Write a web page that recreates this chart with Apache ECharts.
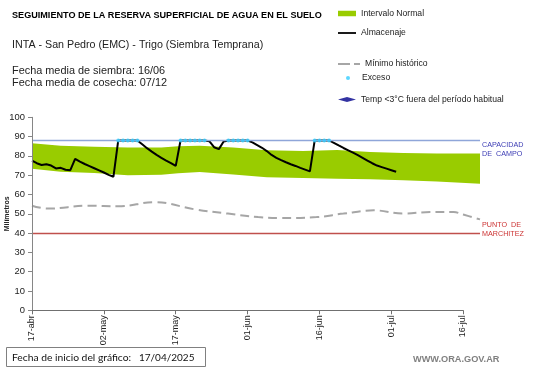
<!DOCTYPE html>
<html><head><meta charset="utf-8">
<script src="https://cdn.jsdelivr.net/npm/echarts@6/dist/echarts.min.js"></script>
<style>html,body{margin:0;padding:0;background:#fff}#c{width:541px;height:368px}</style>
</head><body><div id="c"></div>
<script>
// ---- data ----
const tickLabels = ['17-abr','02-may','17-may','01-jun','16-jun','01-jul','16-jul'];
// Almacenaje (mm), one value per day from 17-abr
const almacenaje = [
  77.5,76.2,75.3,75.7,75.0,73.5,73.8,72.8,72.6,78.5,
  77.0,75.8,74.7,73.6,72.5,71.4,70.2,69.2,88,88,
  88,88,88,86,84,82.2,80.5,79,77.6,76.3,
  74.8,88,88,88,88,88,88,87.6,84.5,83.5,
  87.5,88,88,88,88,88,87,85.6,84.2,82.5,
  80.5,79,77.8,76.7,75.7,74.8,73.8,72.9,72,88,
  88,88,88,86.8,85.4,84.1,82.9,81.7,80.4,79.0,
  77.6,76.2,75.0,74.2,73.4,72.6,71.8
];
const excesoDays = [18,19,20,21,22,31,32,33,34,35,36,41,42,43,44,45,59,60,61,62];
const bandDays = [0,6,13,20,27,30.5,35,42,49,56.6,63.7,70.6,77.5,84.5,93.5];
const bandLow  = [73.3,71.8,71.2,70.0,70.2,71.0,71.6,70.3,69.0,68.6,68.2,67.9,67.4,66.8,65.6];
const bandHigh = [86.5,85.3,84.8,84.3,84.4,85.0,85.2,84.3,82.9,82.5,83.1,82.0,81.5,81.2,81.3];
const minHistDays = [0,3.3,11.7,18,25.6,34,40.9,47.2,51.8,59.4,65,71.3,77.5,83.1,88,90,93.5];
const minHist     = [54.2,52.7,54.2,53.9,56.0,52.3,50.1,48.3,47.8,48.3,50.1,51.8,50.1,50.9,50.9,49.6,47.1];
const capacidadCampo = 88;
const puntoMarchitez = 40;
const lastDay = 93.5;

// ---- chart ----
const F = '"Liberation Sans", Arial, sans-serif';
const chart = echarts.init(document.getElementById('c'));
const legendBase = {left:338, padding:0, itemWidth:18, textStyle:{fontSize:8.6, color:'#222', fontFamily:F}};
chart.setOption({
  animation:false,
  textStyle:{fontFamily:F},
  grid:[
    {left:32, top:117.3, width:448, height:193, outerBoundsMode:'none', containLabel:false},
    {left:32, top:117.3, width:431, height:193, outerBoundsMode:'none', containLabel:false}
  ],
  xAxis:[
    {gridIndex:0, type:'value', min:0, max:lastDay, show:false},
    {gridIndex:1, type:'value', min:0, max:90, interval:15, z:10,
      axisLine:{lineStyle:{color:'#707070', width:1}},
      axisTick:{length:4, lineStyle:{color:'#707070'}},
      splitLine:{show:false},
      axisLabel:{rotate:90, fontSize:9, color:'#222', margin:5,
        formatter:v => tickLabels[Math.round(v/15)]}}
  ],
  yAxis:[
    {gridIndex:0, type:'value', min:0, max:100, show:false},
    {gridIndex:1, type:'value', min:0, max:100, interval:10, z:10,
      axisLine:{show:true, lineStyle:{color:'#868686'}},
      axisTick:{show:true, length:4, lineStyle:{color:'#868686'}},
      splitLine:{show:false},
      axisLabel:{fontSize:9.4, color:'#222', margin:7},
      name:'Milímetros', nameLocation:'middle', nameGap:21.5, nameMoveOverlap:false,
      nameTextStyle:{fontSize:7, fontWeight:'bold', color:'#222'}}
  ],
  legend:[
    Object.assign({}, legendBase, {top:9, itemHeight:5.5, data:[{name:'Intervalo Normal', icon:'rect'}]}),
    Object.assign({}, legendBase, {top:28.5, itemHeight:10, data:[{name:'Almacenaje', icon:'path://M0,4H20V6H0Z'}]}),
    Object.assign({}, legendBase, {top:59.5, itemHeight:10, itemWidth:22, data:[{name:'Mínimo histórico', icon:'path://M0,4H12V6H0Z M16,4H22V6H16Z'}]}),
    Object.assign({}, legendBase, {left:346, top:73.5, itemHeight:4, data:[{name:'Exceso', icon:'circle'}]}),
    Object.assign({}, legendBase, {top:95, itemHeight:5, data:[{name:'Temp <3°C fuera del período habitual', icon:'diamond'}]})
  ],
  graphic:[
    {type:'text', x:12, y:15.7, style:{text:'SEGUIMIENTO DE LA RESERVA SUPERFICIAL DE AGUA EN EL SUELO', font:'bold 9.1px '+F, fill:'#000', verticalAlign:'middle'}},
    {type:'text', x:12, y:45, style:{text:'INTA - San Pedro (EMC) - Trigo (Siembra Temprana)', font:'10.7px '+F, fill:'#222', verticalAlign:'middle'}},
    {type:'text', x:12, y:70.7, style:{text:'Fecha media de siembra: 16/06', font:'10.9px '+F, fill:'#222', verticalAlign:'middle'}},
    {type:'text', x:12, y:83.3, style:{text:'Fecha media de cosecha: 07/12', font:'10.9px '+F, fill:'#222', verticalAlign:'middle'}},
    {type:'rect', shape:{x:6.5, y:347.5, width:199, height:19}, style:{fill:'#fff', stroke:'#808080', lineWidth:1}},
    {type:'text', x:12, y:357.5, style:{text:'Fecha de inicio del gráfico:', font:'10.3px Lato, sans-serif', fill:'#111', verticalAlign:'middle'}},
    {type:'text', x:139, y:357.5, style:{text:'17/04/2025', font:'10px Lato, sans-serif', fill:'#111', verticalAlign:'middle'}},
    {type:'text', x:413, y:359.5, style:{text:'WWW.ORA.GOV.AR', font:'bold 9.2px '+F, fill:'#808080', verticalAlign:'middle'}}
  ],
  series:[
    {name:'Intervalo Normal', type:'custom', xAxisIndex:0, yAxisIndex:0, silent:true, z:1,
      data:[[bandDays[0], bandLow[0]]],
      itemStyle:{color:'#99CC00'},
      renderItem:(params, api) => {
        const top = bandDays.map((d,i)=>api.coord([d, bandHigh[i]]));
        const bot = bandDays.map((d,i)=>api.coord([d, bandLow[i]])).reverse();
        return {type:'polygon', shape:{points:top.concat(bot)}, style:{fill:'#99CC00'}};
      }},
    {name:'Mínimo histórico', type:'line', xAxisIndex:0, yAxisIndex:0, z:3,
      data:minHistDays.map((d,i)=>[d,minHist[i]]), symbol:'none', smooth:0.4,
      lineStyle:{color:'#A6A6A6', width:2, type:[9,5]}, itemStyle:{color:'#A6A6A6'}},
    {name:'Almacenaje', type:'line', xAxisIndex:0, yAxisIndex:0, z:4,
      data:almacenaje.map((v,i)=>[i,v]), symbol:'none',
      lineStyle:{color:'#000', width:2}, itemStyle:{color:'#000'},
      markLine:{silent:true, symbol:'none', animation:false, data:[
        {yAxis:capacidadCampo, lineStyle:{color:'#8FA6D9', width:1.3, type:'solid'},
          label:{show:true, position:'end', distance:2, formatter:'CAPACIDAD\nDE  CAMPO', color:'#3C3CB4', fontSize:7.2, lineHeight:9, offset:[0,9]}},
        {yAxis:puntoMarchitez, lineStyle:{color:'#C0504D', width:1.3, type:'solid'},
          label:{show:true, position:'end', distance:2, formatter:'PUNTO  DE\nMARCHITEZ', color:'#CC3333', fontSize:7.2, lineHeight:9, offset:[0,-4]}}
      ]}},
    {name:'Exceso', type:'scatter', xAxisIndex:0, yAxisIndex:0, z:5,
      data:excesoDays.map(d=>[d, almacenaje[d]]), symbol:'circle', symbolSize:4,
      itemStyle:{color:'#33CCFF'}},
    {name:'Temp <3°C fuera del período habitual', type:'scatter', xAxisIndex:0, yAxisIndex:0,
      data:[], symbol:'diamond', symbolSize:5, itemStyle:{color:'#00008B'}}
  ]
});
</script>
</body></html>
